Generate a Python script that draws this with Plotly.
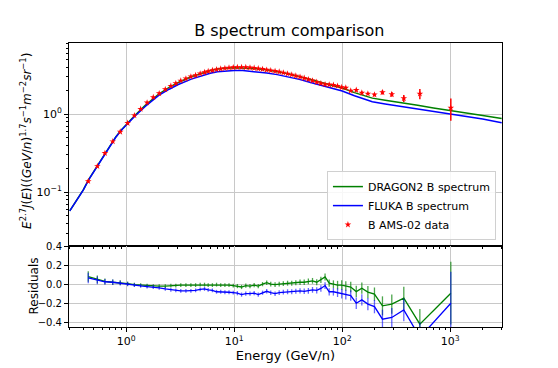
import plotly.graph_objects as go

# ---------- model curves (E^2.7 J(E)) ----------
model_E = [0.3, 0.35, 0.4, 0.45, 0.5, 0.6, 0.7, 0.8, 0.9, 1.0, 1.2, 1.5, 2,
           2.5, 3, 4, 5, 6, 7, 8, 10, 12, 15, 20, 25, 30, 40, 50, 60, 70, 85,
           100, 130, 160, 190, 250, 300, 400, 500, 700, 1000, 1500, 2000, 3000]
dragon_flux = [0.0575, 0.08, 0.107, 0.146, 0.183, 0.275, 0.39, 0.51, 0.625,
               0.735, 0.96, 1.29, 1.80, 2.2, 2.52, 3.0, 3.34, 3.6, 3.77, 3.86,
               3.92, 3.92, 3.84, 3.70, 3.52, 3.34, 3.03, 2.78, 2.58, 2.44,
               2.30, 2.16, 1.88, 1.72, 1.60, 1.50, 1.45, 1.36, 1.30, 1.20,
               1.12, 1.02, 0.96, 0.88]
fluka_flux = [0.0575, 0.08, 0.106, 0.145, 0.182, 0.273, 0.387, 0.505, 0.62,
              0.73, 0.94, 1.25, 1.73, 2.08, 2.37, 2.8, 3.12, 3.34, 3.48, 3.56,
              3.62, 3.6, 3.5, 3.36, 3.2, 3.05, 2.78, 2.56, 2.38, 2.25, 2.1,
              1.97, 1.72, 1.55, 1.44, 1.35, 1.30, 1.22, 1.16, 1.07, 1.0, 0.92,
              0.865, 0.775]

# ---------- AMS-02 boron data ----------
ams_E = [0.445, 0.54, 0.635, 0.75, 0.88, 1.03, 1.19, 1.36, 1.56, 1.78, 2.02,
         2.3, 2.59, 2.88, 3.2, 3.57, 3.97, 4.39, 4.84, 5.31, 5.74,
         6.28, 6.86, 7.5, 8.2, 8.95, 9.8, 10.7, 11.7, 12.8, 14.0, 15.3, 16.7,
         18.3, 20.0, 21.8, 23.9, 26.1, 28.5, 31.2, 34.1, 37.2, 40.7, 44.5,
         48.6, 53.1, 58.1, 63.5, 69.4, 75.8, 82.9, 90.6, 99.0, 108,
         120, 135, 152, 173, 199, 236, 288, 372, 524, 1014]
ams_flux = [0.138, 0.215, 0.316, 0.446, 0.593, 0.767, 0.96, 1.16, 1.40, 1.64,
            1.84, 2.07, 2.29, 2.47, 2.67, 2.84, 3.01, 3.13, 3.29, 3.42, 3.53,
            3.63, 3.72, 3.80, 3.86, 3.92, 3.96, 3.98, 3.98, 3.97, 3.93, 3.88,
            3.82, 3.76, 3.68, 3.61, 3.54, 3.47, 3.38, 3.28, 3.19, 3.09, 2.99,
            2.89, 2.78, 2.68, 2.57, 2.47, 2.40, 2.38, 2.35, 2.29, 2.20, 2.17,
            1.99, 2.03, 1.87, 1.82, 1.77, 1.90, 1.79, 1.59, 1.82, 1.20]
ams_err = [0.006, 0.008, 0.01, 0.012, 0.015, 0.018, 0.02, 0.024, 0.028, 0.032,
           0.035, 0.04, 0.044, 0.047, 0.05, 0.053, 0.056, 0.058, 0.06, 0.062,
           0.064, 0.065, 0.066, 0.067, 0.068, 0.069, 0.07, 0.07, 0.07, 0.07,
           0.07, 0.07, 0.07, 0.07, 0.07, 0.07, 0.07, 0.07, 0.07, 0.07, 0.068,
           0.066, 0.064, 0.062, 0.06, 0.06, 0.06, 0.06, 0.06, 0.06, 0.06, 0.06,
           0.06, 0.06, 0.06, 0.07, 0.07, 0.07, 0.08, 0.12, 0.12, 0.16, 0.27,
           0.38]

# ---------- residuals (model/data - 1) ----------
dragon_res = [0.08, 0.05, 0.03, 0.02, 0.015, 0.005, -0.005, -0.01, -0.015,
              -0.02, -0.02, -0.02, -0.015, -0.015, -0.01, -0.01, -0.01, -0.01,
              -0.005, -0.005, -0.01, -0.01, -0.005, -0.01, -0.01, -0.01,
              -0.015, -0.02, -0.03, -0.015, -0.02, -0.01, -0.02, 0.0, 0.015,
              0.0, -0.005, 0.0, 0.005, 0.01, 0.01, 0.015, 0.02, 0.02, 0.03,
              0.035, 0.02, 0.045, 0.075, 0.01, 0.0, -0.01, -0.01, -0.02,
              -0.03, -0.078, -0.042, -0.084, -0.105, -0.228, -0.21, -0.147,
              -0.42, -0.095]
fluka_res = [0.065, 0.04, 0.025, 0.02, 0.012, 0.0, -0.01, -0.018, -0.025,
             -0.03, -0.04, -0.05, -0.06, -0.065, -0.07, -0.07, -0.07, -0.065,
             -0.055, -0.05, -0.06, -0.065, -0.08, -0.08, -0.085, -0.085,
             -0.09, -0.095, -0.11, -0.1, -0.1, -0.095, -0.11, -0.09, -0.075,
             -0.09, -0.1, -0.09, -0.085, -0.08, -0.08, -0.075, -0.07, -0.075,
             -0.07, -0.06, -0.065, -0.045, -0.015, -0.08, -0.08, -0.09, -0.1,
             -0.11, -0.12, -0.2, -0.165, -0.21, -0.236, -0.368, -0.35, -0.27,
             -0.56, -0.2]
res_err = [0.056, 0.04, 0.03, 0.028, 0.025, 0.022, 0.02, 0.02, 0.02, 0.02,
           0.02, 0.02, 0.02, 0.02, 0.02, 0.02, 0.02, 0.02, 0.02, 0.02, 0.02,
           0.02, 0.02, 0.02, 0.02, 0.02, 0.02, 0.022, 0.022, 0.022, 0.022,
           0.022, 0.022, 0.022, 0.024, 0.024, 0.024, 0.025, 0.025, 0.026,
           0.026, 0.027, 0.028, 0.028, 0.03, 0.03, 0.032, 0.034, 0.036, 0.038,
           0.04, 0.045, 0.05, 0.05, 0.055, 0.06, 0.06, 0.065, 0.07, 0.1, 0.1,
           0.12, 0.16, 0.33]

major_x = [1, 10, 100, 1000]
major_x_text = ["10<sup>0</sup>", "10<sup>1</sup>", "10<sup>2</sup>", "10<sup>3</sup>"]
minor_x = [0.3, 0.4, 0.5, 0.6, 0.7, 0.8, 0.9, 2, 3, 4, 5, 6, 7, 8, 9,
           20, 30, 40, 50, 60, 70, 80, 90, 200, 300, 400, 500, 600, 700, 800,
           900, 2000, 3000]
major_y = [0.1, 1]
major_y_text = ["10<sup>\u22121</sup>", "10<sup>0</sup>"]
minor_y = [0.03, 0.04, 0.05, 0.06, 0.07, 0.08, 0.09, 0.2, 0.3, 0.4, 0.5, 0.6,
           0.7, 0.8, 0.9, 2, 3, 4, 5, 6, 7, 8]

flux_label = ("<i>E</i><sup>2.7</sup><i>J</i>(<i>E</i>)((<i>GeV</i>/<i>n</i>)"
              "<sup>1.7</sup><i>s</i><sup>\u22121</sup><i>m</i>"
              "<sup>\u22122</sup><i>sr</i><sup>\u22121</sup>)")

GREEN = "#008000"
BLUE = "#0000ff"
RED = "#ff0000"
GRID = "#c8c8c8"

fig = go.Figure()

fig.add_trace(go.Scatter(x=model_E, y=dragon_flux, mode="lines",
                         line=dict(color=GREEN, width=1.5),
                         name="DRAGON2 B spectrum", xaxis="x", yaxis="y"))
fig.add_trace(go.Scatter(x=model_E, y=fluka_flux, mode="lines",
                         line=dict(color=BLUE, width=1.5),
                         name="FLUKA B spectrum", xaxis="x", yaxis="y"))
fig.add_trace(go.Scatter(x=ams_E, y=ams_flux, mode="markers",
                         marker=dict(symbol="star", size=5, color=RED),
                         error_y=dict(type="data", array=ams_err, color=RED,
                                      thickness=1.5, width=0),
                         name="B AMS-02 data", xaxis="x", yaxis="y"))

fig.add_trace(go.Scatter(x=ams_E, y=dragon_res, mode="lines",
                         line=dict(color=GREEN, width=1.3),
                         error_y=dict(type="data", array=res_err,
                                      color="rgba(0,128,0,0.7)",
                                      thickness=1.3, width=0),
                         showlegend=False, xaxis="x2", yaxis="y2"))
fig.add_trace(go.Scatter(x=ams_E, y=fluka_res, mode="lines",
                         line=dict(color=BLUE, width=1.3),
                         error_y=dict(type="data", array=res_err,
                                      color="rgba(0,0,255,0.6)",
                                      thickness=1.3, width=0),
                         showlegend=False, xaxis="x2", yaxis="y2"))

axis_common = dict(showline=True, linecolor="black", linewidth=1, mirror=True,
                   gridcolor=GRID, gridwidth=1, zeroline=False,
                   ticks="outside", ticklen=4, tickcolor="black",
                   automargin=False,
                   tickfont=dict(family="DejaVu Sans", size=11, color="black"))

# page body has an 8px margin, so the figure is 8px smaller than the window
fig.update_layout(
    width=550, height=360,
    margin=dict(l=61, r=56, t=35, b=41, autoexpand=False),
    paper_bgcolor="white", plot_bgcolor="white",
    font=dict(family="DejaVu Sans", color="black"),
    title=dict(text="B spectrum comparison", x=0.5115, xanchor="center",
               y=0.939, yanchor="middle",
               font=dict(family="DejaVu Sans", size=16, color="black")),
    xaxis=dict(axis_common, type="log", range=[-0.53, 3.48], domain=[0, 1],
               anchor="y", tickvals=major_x, ticktext=major_x_text,
               showticklabels=False,
               minor=dict(tickvals=minor_x, ticks="outside", ticklen=2,
                          tickcolor="black", showgrid=False)),
    yaxis=dict(axis_common, type="log", range=[-1.69, 0.91],
               domain=[0.285, 1], anchor="x",
               tickvals=major_y, ticktext=major_y_text,
               minor=dict(tickvals=minor_y, ticks="outside", ticklen=2,
                          tickcolor="black", showgrid=False)),
    xaxis2=dict(axis_common, type="log", range=[-0.53, 3.48], domain=[0, 1],
                anchor="y2", tickvals=major_x, ticktext=major_x_text,
                minor=dict(tickvals=minor_x, ticks="outside", ticklen=2,
                           tickcolor="black", showgrid=False),
                title=dict(text="Energy (GeV/n)", font=dict(size=13),
                           standoff=3)),
    yaxis2=dict(axis_common, range=[-0.45, 0.4], domain=[0, 0.285],
                anchor="x2", tickvals=[-0.4, -0.2, 0.0, 0.2, 0.4],
                tickformat=".1f", tickfont=dict(size=10, color="black",
                                                family="DejaVu Sans")),
    legend=dict(x=0.986, xanchor="right", y=0.306, yanchor="bottom",
                bgcolor="rgba(255,255,255,0.85)", bordercolor="#d0d0d0",
                borderwidth=1, font=dict(size=11, color="black"),
                tracegroupgap=0, itemwidth=30),
)

# y titles as rotated annotations so they sit where the reference has them
fig.add_annotation(text=flux_label, xref="paper", yref="paper",
                   x=-0.0995, y=0.655, xanchor="center", yanchor="middle",
                   textangle=-90, showarrow=False,
                   font=dict(size=12, color="black"))
fig.add_annotation(text="Residuals", xref="paper", yref="paper",
                   x=-0.080, y=0.144, xanchor="center", yanchor="middle",
                   textangle=-90, showarrow=False,
                   font=dict(size=12, color="black"))

fig.write_html("out.html")
